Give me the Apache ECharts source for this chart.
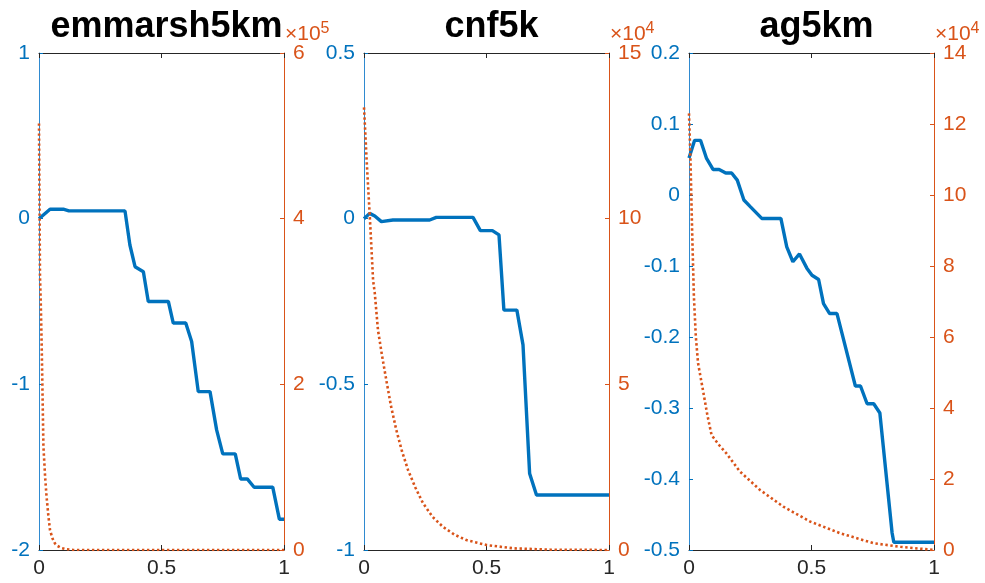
<!DOCTYPE html>
<html>
<head>
<meta charset="utf-8">
<script src="https://cdn.jsdelivr.net/npm/echarts@6/dist/echarts.min.js"></script>
<style>html,body{margin:0;padding:0;background:#fff}#c{width:985px;height:583px}</style>
</head>
<body>
<div id="c"></div>
<script>
// ---- data ----
var titles = ['emmarsh5km', 'cnf5k', 'ag5km'];
var exponents = ['5', '4', '4'];
var xTicks = [0, 0.5, 1];

// panel 1 (emmarsh5km)
var blue1X = [0, 0.045, 0.099, 0.122, 0.351, 0.371, 0.392, 0.426, 0.446, 0.528, 0.548, 0.599, 0.623, 0.650, 0.698, 0.725, 0.750, 0.801, 0.823, 0.850, 0.878, 0.954, 0.981, 1.0];
var blue1Y = [0.0, 0.057, 0.057, 0.047, 0.047, -0.159, -0.29, -0.32, -0.50, -0.50, -0.63, -0.63, -0.742, -1.044, -1.044, -1.275, -1.42, -1.42, -1.571, -1.571, -1.621, -1.621, -1.814, -1.814];
var orange1X = [0, 0.004, 0.007, 0.011, 0.018, 0.025, 0.031, 0.038, 0.045, 0.055, 0.065, 0.075, 0.09, 0.11, 0.14, 1.0];
var orange1Y = [5.15, 3.3, 3.0, 2.46, 1.25, 0.88, 0.64, 0.42, 0.24, 0.14, 0.08, 0.05, 0.025, 0.01, 0.0, 0.0];

// panel 2 (cnf5k)
var blue2X = [0, 0.023, 0.044, 0.071, 0.118, 0.268, 0.295, 0.445, 0.475, 0.524, 0.551, 0.571, 0.624, 0.649, 0.676, 0.704, 1.0];
var blue2Y = [0.0, 0.016, 0.008, -0.009, -0.004, -0.004, 0.004, 0.004, -0.036, -0.036, -0.049, -0.276, -0.276, -0.381, -0.769, -0.834, -0.834];
var orange2X = [0, 0.012, 0.023, 0.037, 0.044, 0.057, 0.074, 0.091, 0.11, 0.132, 0.155, 0.180, 0.21, 0.241, 0.28, 0.322, 0.37, 0.418, 0.5, 0.61, 0.76, 1.0];
var orange2Y = [13.36, 11.6, 10.16, 8.15, 7.75, 6.64, 5.85, 5.13, 4.35, 3.62, 2.98, 2.41, 1.88, 1.41, 1.0, 0.70, 0.46, 0.30, 0.15, 0.05, 0.01, 0.0];

// panel 3 (ag5km)
var blue3X = [0, 0.023, 0.047, 0.071, 0.098, 0.123, 0.150, 0.174, 0.197, 0.224, 0.249, 0.297, 0.375, 0.399, 0.424, 0.451, 0.481, 0.502, 0.529, 0.549, 0.574, 0.604, 0.679, 0.700, 0.727, 0.754, 0.779, 0.829, 0.836, 1.0];
var blue3Y = [0.052, 0.077, 0.077, 0.052, 0.036, 0.036, 0.031, 0.031, 0.021, -0.007, -0.016, -0.033, -0.033, -0.073, -0.094, -0.083, -0.103, -0.113, -0.119, -0.153, -0.167, -0.167, -0.269, -0.269, -0.294, -0.294, -0.307, -0.476, -0.489, -0.489];
var orange3X = [0, 0.006, 0.013, 0.020, 0.028, 0.037, 0.057, 0.075, 0.092, 0.12, 0.153, 0.208, 0.29, 0.385, 0.495, 0.618, 0.754, 0.863, 1.0];
var orange3Y = [12.3, 10.99, 8.92, 7.14, 6.0, 5.26, 4.5, 3.8, 3.24, 2.98, 2.72, 2.21, 1.69, 1.22, 0.80, 0.47, 0.19, 0.09, 0.0];

var leftAxes = [{min: -2, max: 1, interval: 1}, {min: -1, max: 0.5, interval: 0.5}, {min: -0.5, max: 0.2, interval: 0.1}];
var rightAxes = [{min: 0, max: 6, interval: 2}, {min: 0, max: 15, interval: 5}, {min: 0, max: 14, interval: 2}];

var blues = [[blue1X, blue1Y], [blue2X, blue2Y], [blue3X, blue3Y]];
var oranges = [[orange1X, orange1Y], [orange2X, orange2Y], [orange3X, orange3Y]];

// ---- layout / style ----
var BLUE = '#0072BD', ORANGE = '#D95319', DARK = '#262626';
var FONT = '"Liberation Sans", Arial, sans-serif';
var gridLeft = [39, 364, 689];
var gridW = 245;
var gridTop = 53, gridBottom = 33;

function pairs(xs, ys) { return xs.map(function (x, i) { return [x, ys[i]]; }); }
function fmt(v) { return (Math.round(v * 1000) / 1000).toString(); }

var option = {
  animation: false,
  backgroundColor: '#fff',
  grid: [], xAxis: [], yAxis: [], series: [], title: [], graphic: []
};

for (var i = 0; i < 3; i++) {
  option.grid.push({left: gridLeft[i], width: gridW, top: gridTop, bottom: gridBottom, containLabel: false});
  option.xAxis.push({
    type: 'value', gridIndex: i, min: 0, max: 1, interval: 0.5, position: 'bottom',
    axisLine: {show: true, onZero: false, lineStyle: {color: DARK, width: 1}},
    axisTick: {show: true, inside: true, length: 5, lineStyle: {color: DARK}},
    axisLabel: {show: true, color: DARK, fontSize: 21, fontFamily: FONT, margin: 8,
      formatter: function (v) { return xTicks.indexOf(v) >= 0 ? fmt(v) : ''; }},
    splitLine: {show: false}
  });
  option.xAxis.push({
    type: 'value', gridIndex: i, min: 0, max: 1, interval: 0.5, position: 'top',
    axisLine: {show: true, onZero: false, lineStyle: {color: DARK, width: 1}},
    axisTick: {show: true, inside: true, length: 5, lineStyle: {color: DARK}},
    axisLabel: {show: false}, splitLine: {show: false}
  });
  option.yAxis.push({
    type: 'value', gridIndex: i, position: 'left',
    min: leftAxes[i].min, max: leftAxes[i].max, interval: leftAxes[i].interval,
    axisLine: {show: true, onZero: false, lineStyle: {color: '#2f8ad0', width: 1}},
    axisTick: {show: true, inside: true, length: 4, lineStyle: {color: BLUE}},
    axisLabel: {color: BLUE, fontSize: 21, fontFamily: FONT, margin: 9, formatter: fmt},
    splitLine: {show: false}
  });
  option.yAxis.push({
    type: 'value', gridIndex: i, position: 'right',
    min: rightAxes[i].min, max: rightAxes[i].max, interval: rightAxes[i].interval,
    axisLine: {show: true, onZero: false, lineStyle: {color: ORANGE, width: 1}},
    axisTick: {show: true, inside: true, length: 4, lineStyle: {color: ORANGE}},
    axisLabel: {color: ORANGE, fontSize: 21, fontFamily: FONT, margin: 9, formatter: fmt},
    splitLine: {show: false}
  });

  option.series.push({
    type: 'line', xAxisIndex: 2 * i, yAxisIndex: 2 * i,
    data: pairs(blues[i][0], blues[i][1]), showSymbol: false, z: 2,
    lineStyle: {color: BLUE, width: 3.4}
  });
  option.series.push({
    type: 'line', xAxisIndex: 2 * i, yAxisIndex: 2 * i + 1,
    data: pairs(oranges[i][0], oranges[i][1]), showSymbol: false, z: 3,
    lineStyle: {color: ORANGE, width: 2.6, type: [2.4, 2.6]}
  });

  option.title.push({
    text: titles[i], left: gridLeft[i] + gridW / 2, top: 4, textAlign: 'center',
    textStyle: {fontSize: 36, fontWeight: 'bold', color: '#000', fontFamily: FONT}
  });

  option.graphic.push({
    type: 'text', left: gridLeft[i] + gridW + 1, top: 21,
    style: {
      text: '{a|×10}{b|' + exponents[i] + '}',
      rich: {
        a: {fontSize: 21, fontFamily: FONT, fill: ORANGE, color: ORANGE, verticalAlign: 'bottom'},
        b: {fontSize: 16, fontFamily: FONT, fill: ORANGE, color: ORANGE, verticalAlign: 'top', padding: [0, 0, 8, 0]}
      }
    }
  });
}

var chart = echarts.init(document.getElementById('c'), null, {renderer: 'canvas'});
chart.setOption(option);
</script>
</body>
</html>
